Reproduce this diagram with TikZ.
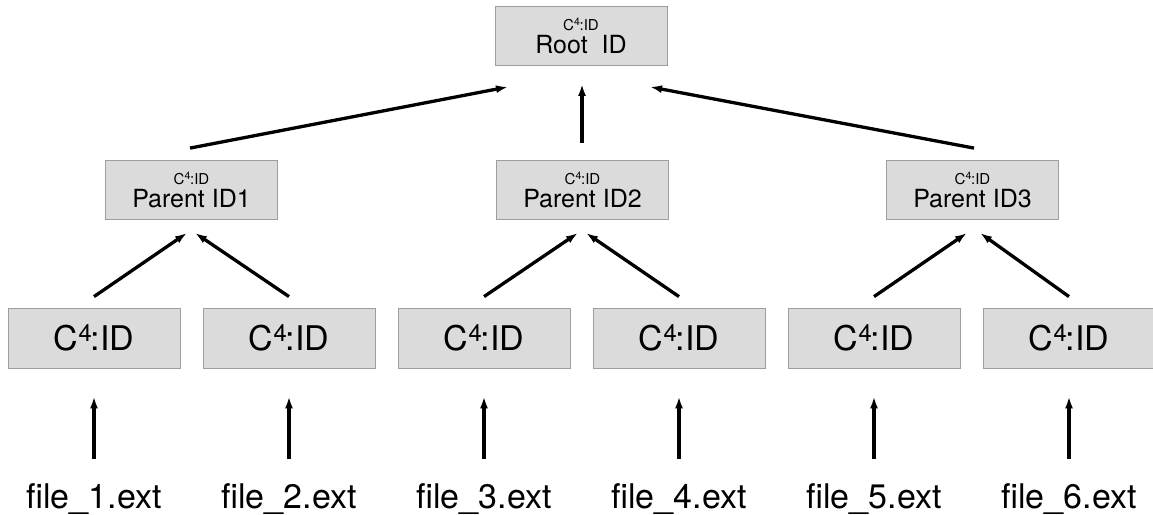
\documentclass[tikz,border=0pt]{standalone}
\usepackage{fontspec}
\setmainfont{TeX Gyre Heros}
\usetikzlibrary{arrows.meta}
\newcommand{\cfid}{C\textsuperscript{4}\kern-0.05em:ID}
\tikzset{
  box/.style={draw=black!38, fill=black!14, line width=0.8pt, inner sep=0pt, align=center},
  cbox/.style={box, minimum width=172pt, minimum height=60pt, font=\fontsize{34}{36}\selectfont},
  pbox/.style={box, minimum width=172pt, minimum height=59pt},
  flabel/.style={anchor=base, font=\fontsize{34}{36}\selectfont, inner sep=0pt},
  arr/.style={line width=3.3pt, -{Latex[length=12pt,width=8pt]}},
}
\newcommand{\twol}[1]{{\fontsize{15}{15}\selectfont\cfid}\\[3pt]{\fontsize{25}{27}\selectfont #1}}
\begin{document}
\begin{tikzpicture}[x=1pt,y=-1pt]
\useasboundingbox (0,0) rectangle (1153,514);
% root and parents
\node[pbox] (r) at (581,36) {\twol{Root\ \ ID}};
\node[pbox] (p1) at (191.5,190) {\twol{Parent ID1}};
\node[pbox] (p2) at (582.5,190) {\twol{Parent ID2}};
\node[pbox] (p3) at (972.5,190) {\twol{Parent ID3}};
% children
\foreach \i/\x in {1/94,2/289,3/484,4/679,5/874,6/1069}{
  \node[cbox] (c\i) at (\x,338) {\cfid};
  \node[flabel] (f\i) at (\x,508) {file\_\i.ext};
  \draw[arr] ([yshift=24pt]f\i.north) -- ([yshift=-28pt]c\i.south);
}
% children to parents
\draw[arr] ([yshift=11pt]c1.north) -- ([xshift=-4.5pt,yshift=-13pt]p1.south);
\draw[arr] ([yshift=11pt]c2.north) -- ([xshift=3.5pt,yshift=-13pt]p1.south);
\draw[arr] ([yshift=11pt]c3.north) -- ([xshift=-4.5pt,yshift=-13pt]p2.south);
\draw[arr] ([yshift=11pt]c4.north) -- ([xshift=3.5pt,yshift=-13pt]p2.south);
\draw[arr] ([yshift=11pt]c5.north) -- ([xshift=-5.5pt,yshift=-13pt]p3.south);
\draw[arr] ([yshift=11pt]c6.north) -- ([xshift=7.5pt,yshift=-13pt]p3.south);
% parents to root
\draw[arr] ([xshift=-1.5pt,yshift=12pt]p1.north) -- ([xshift=-73pt,yshift=-21pt]r.south);
\draw[arr] ([xshift=-0.5pt,yshift=17pt]p2.north) -- ([xshift=1pt,yshift=-18pt]r.south);
\draw[arr] ([xshift=1.5pt,yshift=12pt]p3.north) -- ([xshift=69pt,yshift=-21pt]r.south);
\end{tikzpicture}
\end{document}
